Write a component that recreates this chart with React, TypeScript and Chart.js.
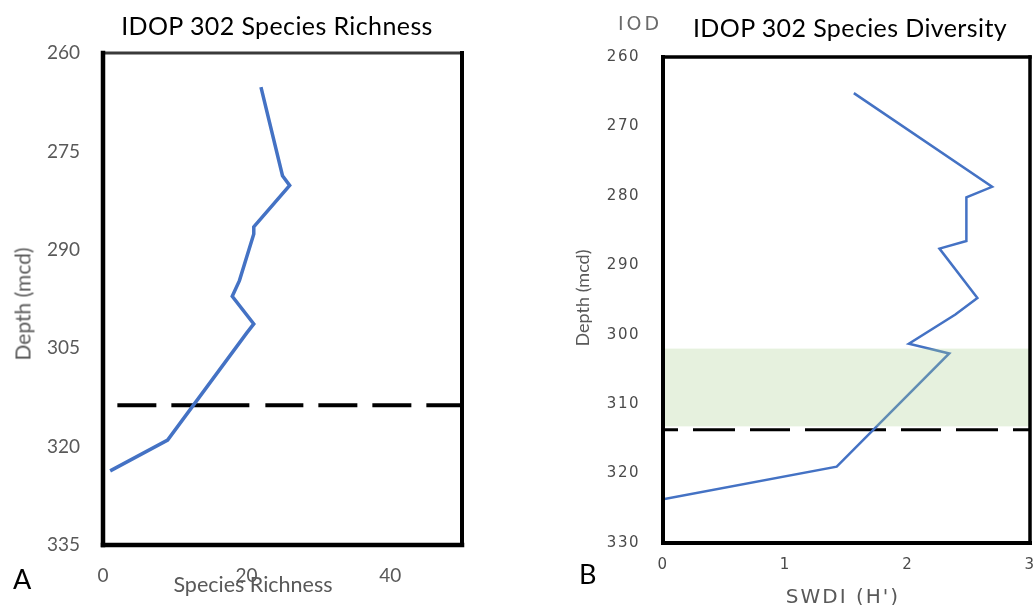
import React, { useEffect, useRef } from 'react';
import { Chart, registerables } from 'chart.js';

Chart.register(...registerables);

// Sample depths (mcd), shared by both down-core profiles
const depths = [265.2, 278.7, 280.2, 286.5, 287.6, 294.7, 297.1, 301.3, 302.7, 319.0, 323.7];
// Species richness at each depth
const speciesRichness = [22, 25, 26, 21, 21, 19, 18, 21, 20, 9, 1];
// Shannon-Wiener diversity index (H') at each depth
const swdi = [1.56, 2.69, 2.48, 2.48, 2.26, 2.57, 2.39, 2.01, 2.34, 1.42, 0];

// Tick labels
const richnessTicks = [0, 20, 40];
const richnessDepthTicks = [260, 275, 290, 305, 320, 335];
const swdiTicks = [0, 1, 2, 3];
const swdiDepthTicks = [260, 270, 280, 290, 300, 310, 320, 330];

// Boundary marker and shaded interval
const boundaryDepth = 313.7;
const richnessBoundarySpan = [2, 50];
const swdiBoundarySpan = [0, 3];
const shadedDepths = [302.0, 313.2];

const GREY = '#595959';
const BLUE = '#4472C4';

// Heavy box around the plot area, one style per edge
const framePlugin = {
  id: 'frame',
  afterDraw(chart: any, _args: any, opts: any) {
    const { ctx, chartArea } = chart;
    const { left, right, top, bottom } = chartArea;
    const edges: any[] = [
      [opts.top, left, top, right, top],
      [opts.bottom, left, bottom, right, bottom],
      [opts.left, left, top, left, bottom],
      [opts.right, right, top, right, bottom],
    ];
    ctx.save();
    ctx.lineCap = 'square';
    for (const [s, x1, y1, x2, y2] of edges) {
      ctx.strokeStyle = s.color;
      ctx.lineWidth = s.width;
      ctx.beginPath();
      ctx.moveTo(x1, y1);
      ctx.lineTo(x2, y2);
      ctx.stroke();
    }
    ctx.restore();
  },
};

// Translucent depth interval drawn over the profile
const bandPlugin = {
  id: 'band',
  afterDatasetsDraw(chart: any, _args: any, opts: any) {
    if (!opts || !opts.range) return;
    const { ctx, chartArea, scales } = chart;
    const y1 = scales.y.getPixelForValue(opts.range[0]);
    const y2 = scales.y.getPixelForValue(opts.range[1]);
    ctx.save();
    ctx.fillStyle = opts.color;
    ctx.fillRect(chartArea.left, Math.min(y1, y2), chartArea.right - chartArea.left, Math.abs(y2 - y1));
    ctx.restore();
  },
};

// Letter spacing for the tick labels
const spacingPlugin = {
  id: 'spacing',
  beforeDraw(chart: any, _args: any, opts: any) {
    (chart.ctx as any).letterSpacing = opts && opts.value ? opts.value : '0px';
  },
};

interface PanelSpec {
  values: number[];
  xMax: number;
  yMin: number;
  yMax: number;
  xTicks: number[];
  yTicks: number[];
  span: number[];
  lineWidth: number;
  dashWidth: number;
  dash: number[];
  padTop: number;
  padRight: number;
  yAxisWidth: number;
  xAxisHeight: number;
  tickFont: any;
  tickColor: string;
  yTickPad: number;
  xTickPad: number;
  spacing: string;
  frame: any;
  band?: any;
}

function buildConfig(p: PanelSpec): any {
  return {
    type: 'scatter',
    data: {
      datasets: [
        {
          data: depths.map((d, i) => ({ x: p.values[i], y: d })),
          showLine: true,
          borderColor: BLUE,
          backgroundColor: BLUE,
          borderWidth: p.lineWidth,
          pointRadius: 0,
          order: 1,
        },
        {
          data: p.span.map((x) => ({ x, y: boundaryDepth })),
          showLine: true,
          borderColor: '#000',
          backgroundColor: '#000',
          borderWidth: p.dashWidth,
          borderDash: p.dash,
          pointRadius: 0,
          order: 2,
        },
      ],
    },
    options: {
      responsive: false,
      animation: false,
      events: [],
      layout: { padding: { left: 0, top: p.padTop, right: p.padRight, bottom: 0 } },
      plugins: {
        legend: { display: false },
        tooltip: { enabled: false },
        frame: p.frame,
        band: p.band || {},
        spacing: { value: p.spacing },
      },
      scales: {
        x: {
          type: 'linear',
          min: 0,
          max: p.xMax,
          afterBuildTicks: (s: any) => {
            s.ticks = p.xTicks.map((v) => ({ value: v }));
          },
          afterFit: (s: any) => {
            s.height = p.xAxisHeight;
            s.paddingLeft = 0;
            s.paddingRight = 0;
          },
          grid: { display: false, drawTicks: false },
          border: { display: false },
          ticks: { color: p.tickColor, font: p.tickFont, padding: p.xTickPad, maxRotation: 0, autoSkip: false },
        },
        y: {
          type: 'linear',
          reverse: true,
          min: p.yMin,
          max: p.yMax,
          afterBuildTicks: (s: any) => {
            s.ticks = p.yTicks.map((v) => ({ value: v }));
          },
          afterFit: (s: any) => {
            s.width = p.yAxisWidth;
          },
          grid: { display: false, drawTicks: false },
          border: { display: false },
          ticks: { color: p.tickColor, font: p.tickFont, padding: p.yTickPad, autoSkip: false },
        },
      },
    },
    plugins: [framePlugin, bandPlugin, spacingPlugin],
  };
}

const richnessPanel: PanelSpec = {
  values: speciesRichness,
  xMax: 50,
  yMin: 260,
  yMax: 335,
  xTicks: richnessTicks,
  yTicks: richnessDepthTicks,
  span: richnessBoundarySpan,
  lineWidth: 3.5,
  dashWidth: 4,
  dash: [39, 15, 78, 16, 38, 15, 39, 15, 39, 15, 40],
  padTop: 53,
  padRight: 58,
  yAxisWidth: 103,
  xAxisHeight: 60,
  tickFont: { family: 'Lato', size: 19 },
  tickColor: GREY,
  yTickPad: 23,
  xTickPad: 19,
  spacing: '0px',
  frame: {
    top: { color: '#3a3a3a', width: 3 },
    bottom: { color: '#000', width: 4.5 },
    left: { color: '#000', width: 4.5 },
    right: { color: '#000', width: 4 },
  },
};

const swdiPanel: PanelSpec = {
  values: swdi,
  xMax: 3,
  yMin: 260,
  yMax: 330,
  xTicks: swdiTicks,
  yTicks: swdiDepthTicks,
  span: swdiBoundarySpan,
  lineWidth: 2.5,
  dashWidth: 3,
  dash: [15, 15, 42, 15, 40, 15, 81, 15, 40, 15, 42, 15, 40],
  padTop: 57,
  padRight: 3,
  yAxisWidth: 143,
  xAxisHeight: 62,
  tickFont: { family: 'DejaVu Sans', size: 15 },
  tickColor: '#4a4a4a',
  yTickPad: 23,
  xTickPad: 13,
  spacing: '1.5px',
  frame: {
    top: { color: '#000', width: 3.5 },
    bottom: { color: '#000', width: 4 },
    left: { color: '#000', width: 4 },
    right: { color: '#000', width: 3.5 },
  },
  band: { range: shadedDepths, color: 'rgba(169, 208, 142, 0.29)' },
};

interface TextSpec {
  text: string;
  x: number;
  y: number;
  family: string;
  size: number;
  color: string;
  align?: 'left' | 'center';
  rotate?: boolean;
  spacing?: number;
}

// Titles, axis titles and panel letters; y is the cap-top line (or centre when rotated)
const LATO_K = 0.17;
const DEJAVU_K = 0.117;

const texts: TextSpec[] = [
  { text: 'IDOP 302 Species Richness', x: 277, y: 17.5, family: 'Lato', size: 25, color: '#000', align: 'center', spacing: 0.4 },
  { text: 'IOD', x: 618, y: 16.5, family: 'DejaVu Sans', size: 19, color: '#6a6a6a', align: 'left', spacing: 3 },
  { text: 'IDOP 302 Species Diversity', x: 850, y: 19, family: 'Lato', size: 25, color: '#000', align: 'center', spacing: 0.4 },
  { text: 'Depth (mcd)', x: 22, y: 304, family: 'Lato', size: 21, color: GREY, rotate: true },
  { text: 'Depth (mcd)', x: 582, y: 298, family: 'Lato', size: 18, color: GREY, rotate: true },
  { text: 'Species Richness', x: 253, y: 578, family: 'Lato', size: 21.5, color: GREY, align: 'center' },
  { text: "SWDI (H')", x: 843, y: 588, family: 'DejaVu Sans', size: 20, color: GREY, align: 'center', spacing: 2 },
  { text: 'A', x: 13, y: 570, family: 'Lato', size: 27, color: '#000', align: 'left' },
  { text: 'B', x: 579, y: 565, family: 'Lato', size: 27, color: '#000', align: 'left' },
];

function Label({ t }: { t: TextSpec }) {
  const k = t.family === 'Lato' ? LATO_K : DEJAVU_K;
  const base: React.CSSProperties = {
    position: 'absolute',
    fontFamily: `'${t.family}', sans-serif`,
    fontSize: t.size,
    lineHeight: `${t.size}px`,
    color: t.color,
    whiteSpace: 'nowrap',
    letterSpacing: t.spacing ? `${t.spacing}px` : undefined,
  };
  if (t.rotate) {
    return (
      <div style={{ ...base, left: t.x, top: t.y, transform: 'translate(-50%, -50%) rotate(-90deg)' }}>{t.text}</div>
    );
  }
  const top = t.y - k * t.size;
  return (
    <div
      style={{
        ...base,
        left: t.x,
        top,
        transform: t.align === 'center' ? 'translateX(-50%)' : undefined,
      }}
    >
      {t.text}
    </div>
  );
}

export default function App() {
  const leftRef = useRef<HTMLCanvasElement>(null);
  const rightRef = useRef<HTMLCanvasElement>(null);

  useEffect(() => {
    const charts: Chart[] = [];
    if (leftRef.current) charts.push(new Chart(leftRef.current, buildConfig(richnessPanel)));
    if (rightRef.current) charts.push(new Chart(rightRef.current, buildConfig(swdiPanel)));
    return () => charts.forEach((c) => c.destroy());
  }, []);

  return (
    <div
      style={{
        position: 'fixed',
        left: 0,
        top: 0,
        width: 1033,
        height: 605,
        background: '#fff',
        overflow: 'hidden',
      }}
    >
      <canvas ref={leftRef} width={520} height={605} style={{ position: 'absolute', left: 0, top: 0 }} />
      <canvas ref={rightRef} width={513} height={605} style={{ position: 'absolute', left: 520, top: 0 }} />
      {texts.map((t, i) => (
        <Label key={i} t={t} />
      ))}
    </div>
  );
}
